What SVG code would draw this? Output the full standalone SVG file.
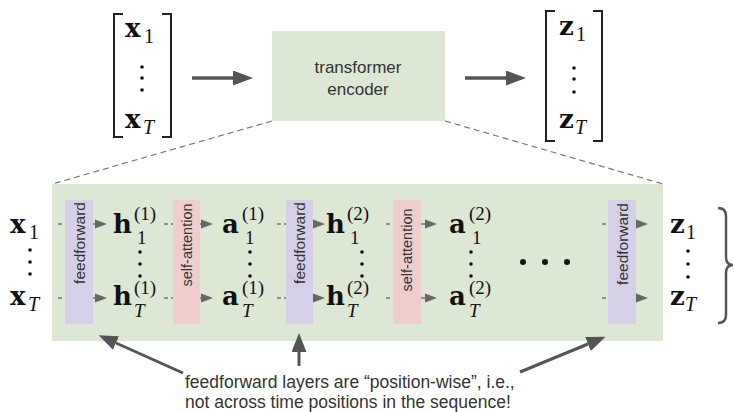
<svg xmlns="http://www.w3.org/2000/svg" width="734" height="412" viewBox="0 0 734 412">
<style>
.sans{font-family:"Liberation Sans",Arial,sans-serif;fill:#333}
.m{font-family:"DejaVu Serif",serif;font-weight:bold;font-size:26px;fill:#111}
.s{font-family:"Liberation Serif",serif;font-size:20px;fill:#111}
.p{font-family:"Liberation Serif",serif;font-size:19px;fill:#111}
.it{font-style:italic}
.ff{fill:#d5d0e8}
.sa{fill:#f0cdcd}
.green{fill:#dce8d4}
.dot{fill:#111}
.rowarr{stroke:#707070;stroke-width:1.6;stroke-dasharray:4 3;fill:none}
.big{stroke:#555;stroke-width:3.5;fill:none}
.ptr{stroke:#555;stroke-width:3;fill:none}
.br{stroke:#222;stroke-width:2;fill:none}
.dash{stroke:#777;stroke-width:1.2;stroke-dasharray:6 4;fill:none}
</style>
<defs>
<marker id="hSmall" markerUnits="userSpaceOnUse" markerWidth="12" markerHeight="10" refX="0" refY="5" orient="auto"><path d="M0,0.5 L12,5 L0,9.5 z" fill="#666"/></marker>
<marker id="hBig" markerUnits="userSpaceOnUse" markerWidth="20" markerHeight="15" refX="0" refY="7.5" orient="auto"><path d="M0,0 L20,7.5 L0,15 z" fill="#555"/></marker>
<marker id="hPtr" markerUnits="userSpaceOnUse" markerWidth="19" markerHeight="15" refX="0" refY="7.5" orient="auto"><path d="M0,0 L19,7.5 L0,15 z" fill="#555"/></marker>
</defs>

<g id="input-vector">
<path class="br" d="M123,14 H114 V137 H123"/>
<path class="br" d="M162,14 H171 V137 H162"/>
<text class="m" x="125" y="37">x</text><text class="s" x="144" y="43">1</text>
<circle class="dot" cx="142" cy="67" r="1.8"/><circle class="dot" cx="142" cy="78" r="1.8"/><circle class="dot" cx="142" cy="90" r="1.8"/>
<text class="m" x="125" y="128">x</text><text class="s it" x="143" y="134">T</text>
</g>

<g id="encoder">
<rect class="green" x="272" y="31" width="173" height="90"/>
<text class="sans" font-size="17" x="358" y="73" text-anchor="middle">transformer</text>
<text class="sans" font-size="17" x="358" y="95" text-anchor="middle">encoder</text>
</g>

<g id="output-vector">
<path class="br" d="M555,11 H546 V141 H555"/>
<path class="br" d="M593,11 H602 V141 H593"/>
<text class="m" x="559" y="35">z</text><text class="s" x="576" y="41">1</text>
<circle class="dot" cx="574" cy="68" r="1.8"/><circle class="dot" cx="574" cy="79" r="1.8"/><circle class="dot" cx="574" cy="92" r="1.8"/>
<text class="m" x="559" y="128">z</text><text class="s it" x="575" y="134">T</text>
</g>

<g id="panel">
<rect class="green" x="52" y="184" width="611" height="157"/>
</g>

<g id="connectors">
<path class="big" d="M192,78 H233" marker-end="url(#hBig)"/>
<path class="big" d="M465,78 H506" marker-end="url(#hBig)"/>
<path class="dash" d="M272,121 L52,184"/>
<path class="dash" d="M445,121 L663,184"/>
<path class="rowarr" d="M58,224 H95" marker-end="url(#hSmall)"/>
<path class="rowarr" d="M58,298 H95" marker-end="url(#hSmall)"/>
<path class="rowarr" d="M164,224 H201" marker-end="url(#hSmall)"/>
<path class="rowarr" d="M164,298 H201" marker-end="url(#hSmall)"/>
<path class="rowarr" d="M277,224 H313" marker-end="url(#hSmall)"/>
<path class="rowarr" d="M277,298 H313" marker-end="url(#hSmall)"/>
<path class="rowarr" d="M386,224 H425" marker-end="url(#hSmall)"/>
<path class="rowarr" d="M386,298 H425" marker-end="url(#hSmall)"/>
<path class="rowarr" d="M602,224 H636" marker-end="url(#hSmall)"/>
<path class="rowarr" d="M602,298 H636" marker-end="url(#hSmall)"/>
<path class="ptr" d="M183,373 L116,343" marker-end="url(#hPtr)"/>
<path class="ptr" d="M299,366 V352" marker-end="url(#hPtr)"/>
<path class="ptr" d="M520,372 L588,344" marker-end="url(#hPtr)"/>
</g>

<g id="ff1"><rect class="ff" x="65" y="200" width="28" height="124"/><text class="sans" font-size="15.5" text-anchor="middle" transform="translate(84.5,243) rotate(-90)">feedforward</text></g>
<g id="sa1"><rect class="sa" x="173" y="200" width="27" height="124"/><text class="sans" font-size="14.5" text-anchor="middle" transform="translate(191.5,245) rotate(-90)">self-attention</text></g>
<g id="ff2"><rect class="ff" x="286" y="200" width="27" height="124"/><text class="sans" font-size="15.5" text-anchor="middle" transform="translate(305,243) rotate(-90)">feedforward</text></g>
<g id="sa2"><rect class="sa" x="393" y="200" width="28" height="124"/><text class="sans" font-size="14.5" text-anchor="middle" transform="translate(412,250) rotate(-90)">self-attention</text></g>
<g id="ff3"><rect class="ff" x="608" y="200" width="28" height="124"/><text class="sans" font-size="15.5" text-anchor="middle" transform="translate(627.5,244) rotate(-90)">feedforward</text></g>

<g id="x-col">
<text class="m" x="10" y="233">x</text><text class="s" x="29" y="239">1</text>
<circle class="dot" cx="30" cy="250" r="1.8"/><circle class="dot" cx="30" cy="262" r="1.8"/><circle class="dot" cx="30" cy="274" r="1.8"/>
<text class="m" x="10" y="305">x</text><text class="s it" x="28" y="311">T</text>
</g>
<g id="h1-col">
<text class="m" x="113" y="233">h</text><text class="p" x="134" y="220">(1)</text><text class="p" x="137" y="244">1</text>
<circle class="dot" cx="140" cy="252" r="1.8"/><circle class="dot" cx="140" cy="264" r="1.8"/><circle class="dot" cx="140" cy="276" r="1.8"/>
<text class="m" x="113" y="305">h</text><text class="p" x="134" y="294">(1)</text><text class="p it" x="134" y="317">T</text>
</g>
<g id="a1-col">
<text class="m" x="222" y="233">a</text><text class="p" x="242" y="220">(1)</text><text class="p" x="245" y="244">1</text>
<circle class="dot" cx="250" cy="252" r="1.8"/><circle class="dot" cx="250" cy="264" r="1.8"/><circle class="dot" cx="250" cy="276" r="1.8"/>
<text class="m" x="222" y="305">a</text><text class="p" x="242" y="294">(1)</text><text class="p it" x="242" y="317">T</text>
</g>
<g id="h2-col">
<text class="m" x="326" y="233">h</text><text class="p" x="347" y="220">(2)</text><text class="p" x="350" y="244">1</text>
<circle class="dot" cx="362" cy="252" r="1.8"/><circle class="dot" cx="362" cy="264" r="1.8"/><circle class="dot" cx="362" cy="276" r="1.8"/>
<text class="m" x="326" y="305">h</text><text class="p" x="347" y="294">(2)</text><text class="p it" x="347" y="317">T</text>
</g>
<g id="a2-col">
<text class="m" x="449" y="233">a</text><text class="p" x="469" y="220">(2)</text><text class="p" x="472" y="244">1</text>
<circle class="dot" cx="471" cy="252" r="1.8"/><circle class="dot" cx="471" cy="264" r="1.8"/><circle class="dot" cx="471" cy="276" r="1.8"/>
<text class="m" x="449" y="305">a</text><text class="p" x="469" y="294">(2)</text><text class="p it" x="469" y="317">T</text>
</g>
<g id="ellipsis">
<circle class="dot" cx="523" cy="262" r="3"/><circle class="dot" cx="545" cy="262" r="3"/><circle class="dot" cx="567" cy="262" r="3"/>
</g>
<g id="z-col">
<text class="m" x="670" y="233">z</text><text class="s" x="686" y="239">1</text>
<circle class="dot" cx="688" cy="251" r="1.8"/><circle class="dot" cx="688" cy="264" r="1.8"/><circle class="dot" cx="688" cy="277" r="1.8"/>
<text class="m" x="670" y="305">z</text><text class="s it" x="685" y="311">T</text>
</g>
<g id="brace">
<path d="M718,208 Q726,208 726,216 L726,257 Q726,265 733,265 Q726,265 726,273 L726,315 Q726,323 718,323" stroke="#555" stroke-width="2.5" fill="none"/>
</g>

<g id="note">
<text class="sans" font-size="17.5" x="185" y="388">feedforward layers are “position-wise”, i.e.,</text>
<text class="sans" font-size="17.5" x="185" y="408">not across time positions in the sequence!</text>
</g>
</svg>
